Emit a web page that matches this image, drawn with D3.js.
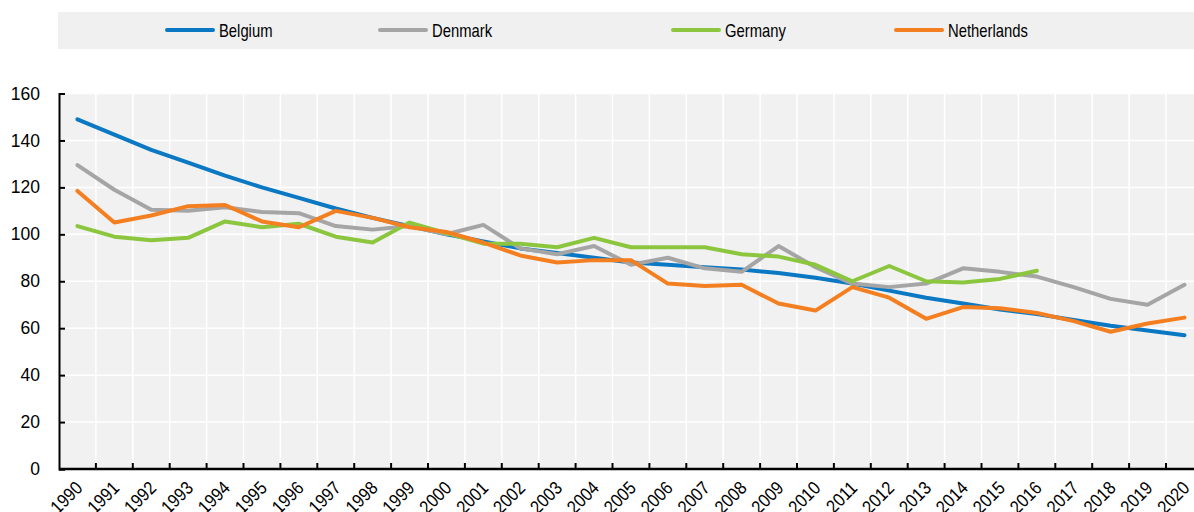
<!DOCTYPE html>
<html>
<head>
<meta charset="utf-8">
<script src="https://cdn.jsdelivr.net/npm/d3@7"></script>
<style>
  body { margin: 0; background: #fff; }
  svg { display: block; font-family: "Liberation Sans", Arial, sans-serif; }
</style>
</head>
<body>
<svg id="chart" width="1194" height="512"></svg>
<script>
// data
var years = d3.range(1990, 2021).map(String);
var belgium = [149, 142.5, 136, 130.5, 125, 120, 115.5, 111, 107, 103.5, 100, 97, 94, 92, 90, 88, 87, 86, 85, 83.5, 81.5, 79, 76, 73, 70.5, 68, 66, 63.5, 61, 59, 57];
var denmark = [129.5, 119, 110.5, 110, 111.5, 109.5, 109, 103.5, 102, 103.5, 100, 104, 94, 91.5, 95, 87, 90, 85.5, 84, 95, 86, 79, 77.5, 79, 85.5, 84, 82, 77.5, 72.5, 70, 78.5];
var germany = [103.5, 99, 97.5, 98.5, 105.5, 103, 104.5, 99, 96.5, 105, 100.5, 96, 96, 94.5, 98.5, 94.5, 94.5, 94.5, 91.5, 90.5, 87, 80, 86.5, 80, 79.5, 81, 84.5];
var netherlands = [118.5, 105, 108, 112, 112.5, 105.5, 103, 110, 107, 103, 101, 96.5, 91, 88, 89, 89, 79, 78, 78.5, 70.5, 67.5, 77.5, 73, 64, 69, 68.5, 66.5, 63, 58.5, 62, 64.5];
var yTicks = [0, 20, 40, 60, 80, 100, 120, 140, 160];

var series = [
  {name: "Belgium", values: belgium, color: "#0a78c2"},
  {name: "Denmark", values: denmark, color: "#a5a5a5"},
  {name: "Germany", values: germany, color: "#8cc63f"},
  {name: "Netherlands", values: netherlands, color: "#f47f20"}
];

var svg = d3.select("#chart"),
    margin = {top: 93.5, left: 59},
    height = 375.5,
    width = 36.9 * years.length;

var x = d3.scaleBand().domain(years).range([0, width]),
    y = d3.scaleLinear().domain([0, 160]).range([height, 0]);

// legend (narrow look: no narrow font installed, so squeeze the text)
var legX = [167, 380, 673, 896];
svg.append("rect")
    .attr("x", 58).attr("y", 12)
    .attr("width", 1194 - 58).attr("height", 37)
    .attr("fill", "#f0f0f0");
var leg = svg.selectAll(".leg")
    .data(series)
    .enter().append("g")
        .attr("class", "leg")
        .attr("transform", function(d, i) { return "translate(" + legX[i] + ",30)"; });
leg.append("line")
    .attr("x1", 0).attr("x2", 46)
    .attr("stroke", function(d) { return d.color; })
    .attr("stroke-width", 4)
    .attr("stroke-linecap", "round");
leg.append("text")
    .attr("transform", "translate(52,0) scale(0.8,1)")
    .attr("dy", "0.36em")
    .style("font-size", "18.5px")
    .attr("fill", "#000")
    .text(function(d) { return d.name; });

var g = svg.append("g")
    .attr("transform", "translate(" + margin.left + "," + margin.top + ")");

g.append("rect")
    .attr("width", width).attr("height", height)
    .attr("fill", "#f1f1f1");

// grid
g.selectAll(".hgrid")
    .data(yTicks.slice(1))
    .enter().append("line")
        .attr("class", "hgrid")
        .attr("x1", 0).attr("x2", width)
        .attr("y1", function(d) { return y(d); })
        .attr("y2", function(d) { return y(d); })
        .attr("stroke", "#fff").attr("stroke-width", 1.5);
g.selectAll(".vgrid")
    .data(years.slice(1))
    .enter().append("line")
        .attr("class", "vgrid")
        .attr("x1", function(d) { return x(d); })
        .attr("x2", function(d) { return x(d); })
        .attr("y1", 0).attr("y2", height)
        .attr("stroke", "#fff").attr("stroke-width", 1.5);

// lines
var line = d3.line()
    .x(function(d, i) { return x(years[i]) + x.bandwidth() / 2; })
    .y(function(d) { return y(d); });

g.selectAll(".series")
    .data(series)
    .enter().append("path")
        .attr("class", "series")
        .attr("d", function(d) { return line(d.values); })
        .attr("fill", "none")
        .attr("stroke", function(d) { return d.color; })
        .attr("stroke-width", 4)
        .attr("stroke-linejoin", "round")
        .attr("stroke-linecap", "round");

// y axis
var yAxis = g.append("g")
    .call(d3.axisLeft(y).tickValues(yTicks).tickSize(-6).tickPadding(19));
yAxis.select(".domain").attr("stroke", "#000").attr("stroke-width", 2);
yAxis.selectAll(".tick line").attr("stroke", "#000").attr("stroke-width", 2);
yAxis.selectAll(".tick text")
    .style("font-size", "17.5px")
    .attr("fill", "#000");

// x axis: ticks on category boundaries
var xAxis = g.append("g")
    .attr("transform", "translate(0," + height + ")");
xAxis.append("line")
    .attr("x1", 0).attr("x2", width)
    .attr("stroke", "#000").attr("stroke-width", 2.5);
xAxis.selectAll(".xtick")
    .data(years.slice(1))
    .enter().append("line")
        .attr("class", "xtick")
        .attr("x1", function(d) { return x(d); })
        .attr("x2", function(d) { return x(d); })
        .attr("y1", 0).attr("y2", -6)
        .attr("stroke", "#000").attr("stroke-width", 2);
xAxis.selectAll(".xlab")
    .data(years)
    .enter().append("text")
        .attr("class", "xlab")
        .attr("text-anchor", "end")
        .attr("transform", function(d) {
            return "translate(" + (x(d) + x.bandwidth() / 2 - 3) + ",11) rotate(-45) scale(0.88,1)";
        })
        .attr("dy", "0.7em")
        .style("font-size", "18.5px")
        .attr("fill", "#000")
        .text(function(d) { return d; });
</script>
</body>
</html>
